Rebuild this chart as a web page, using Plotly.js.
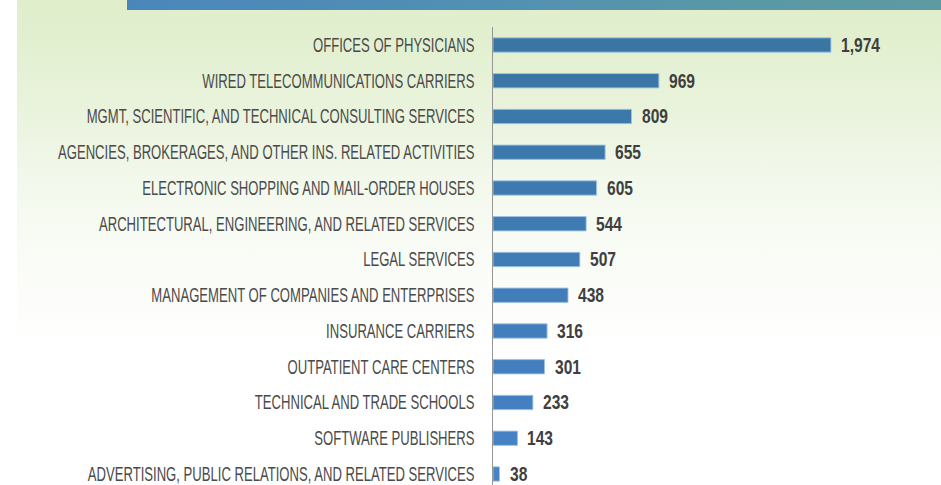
<!DOCTYPE html>
<html>
<head>
<meta charset="utf-8">
<script src="https://cdn.plot.ly/plotly-3.0.1.min.js"></script>
<style>
  html, body { margin: 0; padding: 0; background: #ffffff; }
  #wrap { position: relative; width: 941px; height: 485px; overflow: hidden; }
  #bg { position: absolute; left: 17px; top: 0; width: 924px; height: 350px;
        background: linear-gradient(to bottom, #e0eecb 0%, #e3f0d1 15%, #ebf4df 35%, #f4f9ee 55%, #fafcf7 75%, #ffffff 100%); }
  #banner { position: absolute; left: 127px; top: 0; width: 814px; height: 10px;
        background: linear-gradient(to right, #4b86bb 0%, #5290b3 45%, #5a98a6 75%, #5d9aa2 100%); }
  #chart { position: absolute; left: 0; top: 0; width: 941px; height: 485px; }
</style>
</head>
<body>
<div id="wrap">
  <div id="bg"></div>
  <div id="banner"></div>
  <div id="chart"></div>
</div>
<script>
const categories = [
  "OFFICES OF PHYSICIANS",
  "WIRED TELECOMMUNICATIONS CARRIERS",
  "MGMT, SCIENTIFIC, AND TECHNICAL CONSULTING SERVICES",
  "AGENCIES, BROKERAGES, AND OTHER INS. RELATED ACTIVITIES",
  "ELECTRONIC SHOPPING AND MAIL-ORDER HOUSES",
  "ARCHITECTURAL, ENGINEERING, AND RELATED SERVICES",
  "LEGAL SERVICES",
  "MANAGEMENT OF COMPANIES AND ENTERPRISES",
  "INSURANCE CARRIERS",
  "OUTPATIENT CARE CENTERS",
  "TECHNICAL AND TRADE SCHOOLS",
  "SOFTWARE PUBLISHERS",
  "ADVERTISING, PUBLIC RELATIONS, AND RELATED SERVICES"
];
const values = [1974, 969, 809, 655, 605, 544, 507, 438, 316, 301, 233, 143, 38];

const barColors = [
  "#3a76a3", "#3b77a6", "#3c78a9", "#3d79ac", "#3e7aaf", "#3f7bb2",
  "#407cb5", "#417db8", "#427ebb", "#437fbe", "#4480c1", "#4581c4", "#4682c6"
];

const FONT = "'Liberation Sans', Arial, sans-serif";
const LABEL_SQUEEZE = 0.655;
const VALUE_SQUEEZE = 0.78;

const trace = {
  type: "bar",
  orientation: "h",
  y: categories,
  x: values,
  width: 0.4,
  marker: { color: barColors, line: { color: "rgba(160,195,230,0.9)", width: 1 } },
  hoverinfo: "none"
};

const annotations = values.map((v, i) => ({
  x: v, y: categories[i], xref: "x", yref: "y",
  text: v.toLocaleString("en-US"),
  showarrow: false, xanchor: "left", yanchor: "middle", xshift: 8, align: "left",
  font: { family: FONT, size: 20, color: "#3f3f3f", weight: "bold" }
}));

const layout = {
  width: 941, height: 485,
  margin: { l: 493, r: 20, t: 27, b: 0, pad: 0 },
  paper_bgcolor: "rgba(0,0,0,0)",
  plot_bgcolor: "rgba(0,0,0,0)",
  showlegend: false,
  xaxis: { range: [0, 2500], visible: false, fixedrange: true },
  yaxis: {
    type: "category",
    categoryorder: "array", categoryarray: categories,
    range: [12.308, -0.503],
    showline: true, linecolor: "#969696", linewidth: 1.5,
    showgrid: false, zeroline: false, ticks: "",
    ticklabelstandoff: 13,
    tickfont: { family: FONT, size: 20, color: "#4a4a4a" }
  },
  annotations: annotations
};

// Narrow the glyphs horizontally around each text's anchor point
function squeeze(nodes, f) {
  nodes.forEach(t => {
    const x = parseFloat(t.getAttribute("x")) || 0;
    const old = t.getAttribute("transform") || "";
    t.setAttribute("transform",
      (old + " translate(" + x + ",0) scale(" + f + ",1) translate(" + (-x) + ",0)").trim());
  });
}

Plotly.newPlot("chart", [trace], layout, { staticPlot: true, displayModeBar: false }).then(gd => {
  squeeze(gd.querySelectorAll(".ytick text"), LABEL_SQUEEZE);
  squeeze(gd.querySelectorAll(".annotation-text"), VALUE_SQUEEZE);
});
</script>
</body>
</html>
